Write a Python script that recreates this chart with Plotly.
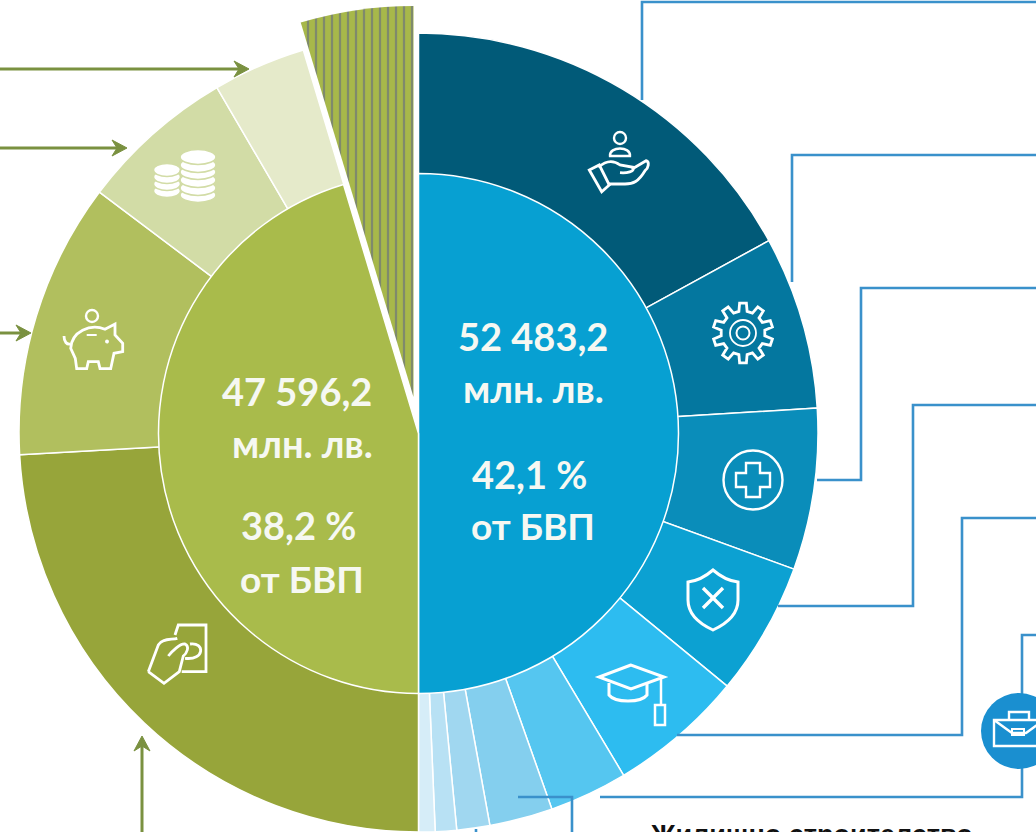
import math
import re
import plotly.graph_objects as go

W, H = 1036, 832

# ---------- data (million BGN) ----------
expense_labels = ["Социална защита", "Икономически дейности", "Здравеопазване", "Отбрана и сигурност",
                  "Образование", "Обществени услуги", "Жилищно строителство", "Култура", "Опазване на околната среда", "Други"]
expense_values = [17873, 7348, 6852, 5657, 5744, 3324, 2682, 1400, 904, 699.2]
expense_colors = ["#015a78", "#04779f", "#0a8dba", "#0ca1d2", "#2dbcf0", "#55c6f0", "#84cfee", "#a0d7f0", "#b8e1f4", "#d6edf8"]

revenue_labels = ["Данъчни приходи", "Осигурителни вноски", "Неданъчни приходи", "Помощи"]
revenue_values = [25309, 11721, 6619, 3947.2]
revenue_colors = ["#97a53a", "#b1bf5e", "#d2dca6", "#e5eaca"]

total_expense = 52483.2
total_revenue = 47596.2
deficit = total_expense - total_revenue

center_texts = [
    ("52 483,2", 533, 336, 38), ("млн. лв.", 533, 388, 38), ("42,1 %", 529, 474, 38), ("от БВП", 533, 525, 37),
    ("47 596,2", 297, 391, 38), ("млн. лв.", 302, 443, 38), ("38,2 %", 298, 525, 38), ("от БВП", 302, 578, 37),
]

BLUE_LINE = "#3a91cb"
GREEN_LINE = "#7a9140"
WHITE = "#ffffff"


def dom(cx, cy, r):
    return dict(x=[(cx - r) / W, (cx + r) / W], y=[max(0, 1 - (cy + r) / H), 1 - (cy - r) / H])


def pie(labels, values, colors, domain, line_w=1.5, **kw):
    return go.Pie(labels=labels, values=values, sort=False, direction="clockwise", rotation=kw.pop("rotation", 0),
                  domain=domain, textinfo="none", hoverinfo="label+value", showlegend=False,
                  marker=dict(colors=colors,
                              line=dict(color=[WHITE if c != "rgba(0,0,0,0)" else "rgba(0,0,0,0)" for c in colors],
                                        width=line_w), **kw.pop("marker_extra", {})), **kw)


fig = go.Figure()
CLEAR = "rgba(0,0,0,0)"
# outer ring
fig.add_trace(pie(expense_labels + revenue_labels + ["Дефицит"],
                  expense_values + revenue_values + [deficit],
                  expense_colors + revenue_colors + [CLEAR], dom(418.5, 432.5, 399.5)))
# striped deficit wedge
fig.add_trace(pie(["Дефицит", ""], [deficit, total_expense + total_revenue],
                  ["#a7b84a", CLEAR], dom(413.5, 397, 391), line_w=0,
                  rotation=-360 * deficit / (total_expense * 2),
                  marker_extra=dict(pattern=dict(shape=["|", ""], size=8, solidity=0.28,
                                                 fgcolor=["#7f8a6c", CLEAR], bgcolor=["#a7b84a", CLEAR]))))
# inner pie
fig.add_trace(pie(["Разходи", "Приходи", "Дефицит"], [total_expense, total_revenue, deficit],
                  ["#07a0d2", "#a9bb4b", CLEAR], dom(418.5, 433.5, 260)))


# ---------- helpers for connectors & icons (pixel space -> paper) ----------
def to_paper(d):
    toks = re.findall(r"[MLCQZ]|-?\d+\.?\d*", d)
    out, xy = [], True
    for t in toks:
        if t in "MLCQZ":
            out.append(t)
            xy = True
        else:
            v = float(t)
            out.append(f"{v / W:.5f}" if xy else f"{1 - v / H:.5f}")
            xy = not xy
    return " ".join(out)


shapes = []


def path(d, color=WHITE, width=2.4, fill=None):
    shapes.append(dict(type="path", path=to_paper(d), xref="paper", yref="paper", layer="above",
                       line=dict(color=color, width=width), fillcolor=fill or "rgba(0,0,0,0)"))


def ell(cx, cy, rx, ry, color=WHITE, width=2.4, fill=None):
    shapes.append(dict(type="circle", xref="paper", yref="paper", layer="above",
                       x0=(cx - rx) / W, x1=(cx + rx) / W, y0=1 - (cy + ry) / H, y1=1 - (cy - ry) / H,
                       line=dict(color=color, width=width), fillcolor=fill or "rgba(0,0,0,0)"))


# blue connectors
for d in ["M642 100 L642 2 L1036 2",
          "M792 282 L792 155 L1036 155",
          "M817 480 L861 480 L861 288 L1036 288",
          "M778 606 L913 606 L913 405 L1036 405",
          "M677 735 L962 735 L962 518 L1036 518",
          "M600 797 L1022 797 L1022 635 L1036 635",
          "M518 797 L572 797 L572 832",
          "M476 829 L476 832"]:
    path(d, BLUE_LINE, 2.6)

# green arrows
for d in ["M0 69 L240 69", "M0 148 L118 148", "M0 333 L23 333", "M142 832 L142 745"]:
    path(d, GREEN_LINE, 3)
for x, y in [(249, 69), (127, 148), (31, 333)]:
    path(f"M{x} {y} L{x-15} {y-8} L{x-10} {y} L{x-15} {y+8} Z", GREEN_LINE, 1, GREEN_LINE)
path("M142 736 L134 751 L142 746 L150 751 Z", GREEN_LINE, 1, GREEN_LINE)

# hand with person
ell(620, 138, 6, 6)
path("M610 156 C609 146 631 146 630 156 Z")
z = lambda pts: " ".join(f"{p}" if isinstance(p, str) else f"{570 + p[0] / 3:.1f} {110 + p[1] / 3:.1f}" for p in pts)
path(z(["M", (58, 180), "L", (88, 165), "L", (118, 225), "L", (95, 245), "Z"]), width=2.8)
path(z(["M", (85, 172), "C", (110, 150), (130, 150), (150, 165), "L", (190, 172), "C", (195, 185), (170, 190), (150, 188),
        "M", (185, 178), "L", (228, 152), "C", (240, 155), (235, 175), (225, 182), "C", (205, 215), (190, 222), (165, 222), "L", (113, 222)]), width=2.8)

# gear
gx, gy = 743, 333
pts = []
teeth = 10
for i in range(teeth):
    a = 2 * math.pi * i / teeth
    st = 2 * math.pi / teeth
    for da, r in [(-0.30, 22), (-0.18, 30), (0.18, 30), (0.30, 22)]:
        b = a + da * st
        pts.append((gx + r * math.sin(b), gy - r * math.cos(b)))
path("M" + " L".join(f"{x:.1f} {y:.1f}" for x, y in pts) + " Z", width=2.8)
ell(gx, gy, 13, 13, width=1.8)
ell(gx, gy, 6.5, 6.5, width=2)

# medical plus
ell(753, 480, 29.5, 29.5)
px, py = 753, 480
a, b = 17, 7
path(f"M{px-b} {py-a} L{px+b} {py-a} L{px+b} {py-b} L{px+a} {py-b} L{px+a} {py+b} L{px+b} {py+b} "
     f"L{px+b} {py+a} L{px-b} {py+a} L{px-b} {py+b} L{px-a} {py+b} L{px-a} {py-b} L{px-b} {py-b} Z")

# shield with cross
path("M713 570 C705 577 697 581 688 582 L688 600 C688 615 700 624 713 630 C726 624 738 615 738 600 L738 582 C729 581 721 577 713 570 Z", width=3)
path("M703 588 L723 608 M723 588 L703 608", width=3.4)

# graduation cap
path("M631 665 L599 677 L631 689 L664 677 Z", width=3)
path("M609 683 L609 695 C615 703 641 703 647 695 L647 683", width=3)
path("M661 678 L661 705", width=2.5)
path("M655 705 L665 705 L665 725 L655 725 Z", width=2.5)

# coins
RING = "#d2dca6"
for y in [191, 184, 177, 170]:
    ell(167, y, 13.5, 6.5, color=RING, width=1.6, fill=WHITE)
for y in [195, 188, 180, 172, 165, 157]:
    ell(198, y, 18, 7.5, color=RING, width=1.6, fill=WHITE)

# piggy bank
ell(92, 316, 6, 6)
zp = lambda pts: " ".join(f"{p}" if isinstance(p, str) else f"{40 + p[0] / 3:.1f} {290 + p[1] / 3:.1f}" for p in pts)
path(zp(["M", (72, 138), "C", (72, 155), (80, 165), (92, 162)]), width=2.8)
path(zp(["M", (92, 175), "C", (95, 125), (150, 100), (195, 118), "L", (225, 102), "L", (225, 135), "L", (248, 160), "L", (248, 185),
         "L", (222, 190), "L", (212, 236), "L", (180, 236), "L", (175, 215), "L", (145, 215), "L", (140, 236), "L", (110, 236), "L", (106, 205), "Z"]), width=2.8)
path(zp(["M", (140, 135), "L", (170, 135)]), width=2)
ell(107, 341.5, 1.2, 1.2, width=1.5, fill=WHITE)

# hand with banknote
path(zp(["M", (405, 1035), "L", (415, 1005), "L", (498, 1005), "L", (498, 1145), "L", (425, 1145)]), width=2.8)
path(zp(["M", (450, 1062), "C", (495, 1055), (495, 1112), (435, 1105)]), width=2.8)
path(zp(["M", (325, 1145), "L", (355, 1065), "C", (365, 1045), (395, 1050), (412, 1045),
         "M", (385, 1098), "C", (395, 1085), (420, 1060), (435, 1062), "C", (450, 1070), (440, 1090), (430, 1098), "L", (418, 1145),
         "L", (372, 1180), "L", (325, 1145)]), width=2.8)

# briefcase badge
ell(1019, 731, 38, 38, color="#1a8fd0", width=0, fill="#1a8fd0")
path("M994 720 L1044 720 L1044 746 L994 746 Z")
path("M994 720 L1012 733 L1026 733 L1044 720")
path("M1009 719 L1009 712 L1029 712 L1029 719")
path("M1012 729 L1024 729 L1024 735 L1012 735 Z", width=2)

# ---------- text ----------
annotations = [dict(text=t, x=x / W, y=1 - y / H, xref="paper", yref="paper", showarrow=False,
                    xanchor="center", yanchor="middle",
                    font=dict(family="Lato", size=s, color="#f6f8f2", weight="bold"))
               for t, x, y, s in center_texts]
annotations.append(dict(text="Жилищно строителство", x=811 / W, y=1 - 835 / H, xref="paper", yref="paper",
                        showarrow=False, xanchor="center", yanchor="middle",
                        font=dict(family="Liberation Sans", size=27, color="#111111", weight="bold")))

fig.update_layout(width=W, height=H, margin=dict(l=0, r=0, t=0, b=0), paper_bgcolor=WHITE, plot_bgcolor=WHITE,
                  shapes=shapes, annotations=annotations, showlegend=False)

fig.write_html("out.html", config={"displayModeBar": False},
               post_script="document.body.style.margin='0';document.body.style.overflow='hidden';")
